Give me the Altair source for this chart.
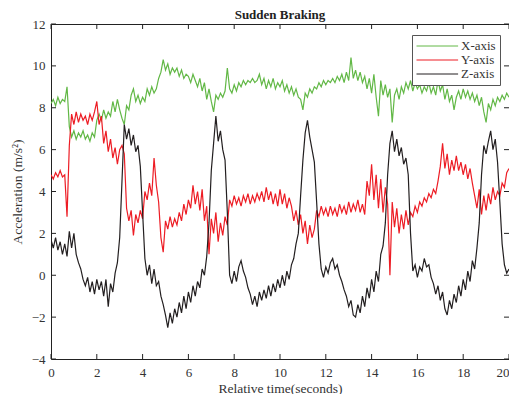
import altair as alt
import pandas as pd

series_names = ["X-axis", "Y-axis", "Z-axis"]
series_colors = ["#62b846", "#ed1c24", "#231f20"]

x_ticks = [0, 2, 4, 6, 8, 10, 12, 14, 16, 18, 20]
y_ticks = [-4, -2, 0, 2, 4, 6, 8, 10, 12]

# time grid: 0.0 .. 20.0 s, 0.1 s step
time_s = [round(i * 0.1, 1) for i in range(201)]

x_axis_vals = [
    8.2, 8.4, 8.1, 8.5, 8.2, 8.4, 8.3, 9.0, 7.1, 6.6,
    6.9, 6.5, 6.8, 6.6, 6.9, 6.5, 6.7, 6.4, 6.8, 6.6,
    7.4, 7.7, 7.4, 7.9, 7.5, 7.8, 7.6, 8.3, 7.8, 8.4,
    7.9, 7.5, 7.2, 8.1, 7.9, 8.6, 8.9, 8.3, 8.6, 8.2,
    8.5, 8.3, 8.9, 8.6, 9.0, 8.7, 8.9, 9.4, 9.7, 10.3,
    9.8, 10.1, 9.6, 9.9, 9.7, 9.9, 9.5, 9.8, 9.4, 9.6,
    9.5, 9.2, 9.6, 9.3, 9.0, 9.4, 8.8, 9.2, 8.4, 8.9,
    8.3, 7.8, 8.6, 8.4, 8.7, 8.5, 8.8, 9.9, 8.9, 8.7,
    9.1, 8.8, 9.2, 9.0, 9.3, 9.1, 9.3, 9.2, 9.4, 9.2,
    9.3, 9.6, 9.1, 9.4, 8.9, 9.3, 9.0, 9.4, 8.9, 9.2,
    9.0, 9.3, 8.8, 9.1, 8.7, 9.0, 8.6, 8.9, 8.5, 8.4,
    7.9, 8.7, 8.5, 8.9, 8.7, 9.0, 8.9, 9.2, 9.0, 9.3,
    9.1, 9.3, 9.2, 9.4, 9.2, 9.5, 9.3, 9.6, 9.2, 9.7,
    9.3, 10.4, 9.4, 9.8, 9.3, 9.7, 9.2, 9.5, 8.9, 9.4,
    8.7, 9.6, 8.5, 7.6, 9.3, 8.6, 9.1, 8.5, 8.9, 7.3,
    8.6, 8.9, 8.4, 9.0, 8.7, 9.2, 8.9, 9.3, 8.8, 9.2,
    8.9, 9.1, 8.7, 9.0, 8.8, 9.2, 8.7, 9.0, 8.6, 9.3,
    8.8, 9.1, 8.4, 8.9, 8.3, 8.6, 7.9, 8.5, 8.8, 8.4,
    8.9, 8.5, 8.8, 8.4, 8.7, 8.3, 8.6, 8.1, 8.5, 7.8,
    7.3, 8.2, 7.9, 8.4, 8.1, 8.5, 8.3, 8.6, 8.4, 8.7,
    8.5,
]

y_axis_vals = [
    4.8, 4.6, 4.9, 4.7, 5.0, 4.7, 4.8, 2.8, 6.2, 7.7,
    7.2, 7.8, 7.3, 7.7, 7.4, 7.6, 7.2, 7.7, 7.4, 7.8,
    8.3, 7.2, 7.6, 6.3, 6.9, 5.9, 6.5, 5.6, 6.1, 5.3,
    6.0, 6.2, 5.8, 3.2, 2.6, 3.1, 1.9, 2.9, 2.5, 3.1,
    2.7, 4.0, 3.6, 4.4, 3.8, 5.6, 4.3, 3.5, 1.8, 1.1,
    2.6, 2.2, 2.8, 2.3, 2.7, 2.4, 3.0, 2.6, 3.4, 2.9,
    3.6, 3.2, 4.3, 3.4, 4.0, 3.1, 4.1, 2.6, 3.3, 1.0,
    2.7, 2.0, 3.0, 1.6, 2.5, 1.9, 2.8, 2.4, 3.6, 3.3,
    3.8, 3.4, 3.7, 3.3, 3.8, 3.5, 3.9, 3.4, 3.8, 3.5,
    3.9, 3.6, 4.0, 3.5, 4.2, 3.6, 4.0, 3.4, 3.9, 3.3,
    4.1, 3.4, 3.9, 3.2, 3.7, 3.3, 2.6, 3.1, 2.4, 2.9,
    2.0, 2.6, 1.5, 2.4, 1.8, 2.2, 3.1, 2.8, 3.3, 2.9,
    3.2, 2.8, 3.3, 2.9, 3.2, 2.8, 3.4, 3.0, 3.3, 2.9,
    3.5, 3.0, 3.4, 3.1, 3.6, 3.0, 3.4, 2.9, 4.5, 3.8,
    5.3, 3.6, 4.8, 3.2, 4.6, 3.0, 4.2, 3.4, 0.0, 3.5,
    2.3, 3.2, 2.0, 2.9, 2.2, 3.1, 2.4, 3.0, 2.8, 3.3,
    3.0, 3.5, 3.3, 3.7, 3.5, 3.9, 3.7, 4.1, 3.9, 4.5,
    5.2, 6.3, 5.1, 5.8, 4.8, 5.5, 5.0, 5.7, 5.0, 5.4,
    4.8, 5.3, 4.6, 5.1, 4.4, 3.8, 3.2, 4.1, 2.9, 3.8,
    3.1, 3.9, 3.4, 4.2, 3.6, 4.0, 3.8, 4.4, 4.2, 4.9,
    5.1,
]

z_axis_vals = [
    1.7, 1.3, 1.8, 1.2, 1.6, 1.0, 1.5, 0.9, 2.1, 1.3,
    2.0, 1.0, 0.6, 0.3, -0.2, -0.5, -0.1, -0.8, -0.3, -0.9,
    -0.2, -0.7, -0.3, -1.0, -0.2, -1.5, -0.4, -0.8, 0.1, 0.6,
    1.8, 4.5, 7.2, 6.5, 7.0, 6.2, 6.7, 5.9, 6.2, 5.2,
    3.0, 0.8, 0.0, 0.5, -0.4, 0.3, -0.5, -0.3, -1.0, -1.4,
    -1.9, -2.5, -1.8, -2.3, -1.6, -2.0, -1.3, -1.8, -1.0, -1.6,
    -0.8, -1.3, -0.5, -1.0, -0.3, -0.6, 0.3, 0.0, 0.9, 2.5,
    5.0, 6.3, 7.6, 6.4, 6.9, 6.0, 5.5, 3.0, 0.0, -0.4,
    0.2, -0.3, 0.4, 0.7, 0.2, -0.1, -0.6, -0.9, -1.4, -1.0,
    -1.5, -0.8, -1.2, -0.7, -1.1, -0.5, -1.0, -0.4, -0.8, -0.2,
    -0.6, 0.0, -0.5, 0.2, -0.2, 0.5, 0.8, 1.5, 2.0, 3.8,
    5.5, 6.8, 7.4, 6.6, 6.0, 5.4, 3.5, 1.5, 0.3, -0.1,
    0.4, 0.1, 0.6, 0.8, 0.3, 0.5, 0.0, -0.3, -0.7, -1.0,
    -1.5, -1.2, -1.9, -2.0, -1.4, -1.8, -1.0, -1.5, -0.6, -1.1,
    -0.2, -0.8, 0.2, -0.3, 1.0, 1.4, 2.5, 4.8, 6.3, 6.9,
    5.9, 6.5, 5.7, 6.1, 5.3, 5.6, 4.8, 2.0, 0.2, 0.5,
    -0.1, 0.4, 0.2, 0.8, 0.4, 0.5, -0.1, -0.4, -0.9, -0.5,
    -1.2, -0.8, -1.6, -1.9, -1.2, -1.6, -0.9, -1.3, -0.5, -1.0,
    -0.2, -0.7, 0.2, -0.3, 0.7, 0.3, 1.3, 2.5, 4.8, 6.2,
    5.8, 6.4, 6.9, 6.0, 6.5, 5.4, 3.5, 1.5, 0.5, 0.1,
    0.3,
]

rows = []
for name, vals in zip(series_names, [x_axis_vals, y_axis_vals, z_axis_vals]):
    for tt, vv in zip(time_s, vals):
        rows.append({"t": tt, "v": vv, "s": name})
df = pd.DataFrame(rows)

W, H = 458, 335
FONT = "Liberation Serif"
TXT = "#333333"

xscale = alt.Scale(domain=[0, 20], nice=False, zero=False)
yscale = alt.Scale(domain=[-4, 12], nice=False, zero=False)

x_axis = alt.Axis(values=x_ticks, title="Relative time(seconds)", grid=False,
                  ticks=False, domain=False, labelPadding=7, titlePadding=2,
                  labelFontSize=13, titleFontSize=13.5, titleFontWeight="normal",
                  labelFont=FONT, titleFont=FONT, labelColor=TXT, titleColor=TXT,
                  labelFlush=False,
                  labelAlign={"condition": {"test": "datum.value == 20", "value": "right"},
                              "value": "center"})
y_axis = alt.Axis(values=y_ticks, title="Acceleration (m/s²)", grid=False,
                  ticks=False, domain=False, labelPadding=6, titlePadding=7,
                  labelFontSize=13, titleFontSize=13.5, titleFontWeight="normal",
                  labelFont=FONT, titleFont=FONT, labelColor=TXT, titleColor=TXT,
                  labelFlush=False)

lines = alt.Chart(df).mark_line(strokeWidth=1.2, clip=True).encode(
    x=alt.X("t:Q", scale=xscale, axis=x_axis),
    y=alt.Y("v:Q", scale=yscale, axis=y_axis),
    color=alt.Color("s:N", scale=alt.Scale(domain=series_names, range=series_colors),
                    legend=alt.Legend(title=None, orient="none", legendX=361, legendY=11,
                                      symbolType="M-1,0H5.4", symbolSize=169,
                                      symbolStrokeWidth=1,
                                      labelFont=FONT, labelFontSize=13, labelColor=TXT,
                                      labelOffset=31, rowPadding=0, padding=4,
                                      strokeColor="#555555", fillColor="white")),
)

xt_df = pd.DataFrame({"t": x_ticks})
yt_df = pd.DataFrame({"v": y_ticks})

bx = alt.Chart(xt_df).mark_rule(color="#222", strokeWidth=1).encode(
    x=alt.X("t:Q", scale=xscale, axis=x_axis), y=alt.value(H), y2=alt.value(H - 5))
tx = alt.Chart(xt_df).mark_rule(color="#222", strokeWidth=1).encode(
    x=alt.X("t:Q", scale=xscale, axis=x_axis), y=alt.value(0), y2=alt.value(5))
ly = alt.Chart(yt_df).mark_rule(color="#222", strokeWidth=1).encode(
    y=alt.Y("v:Q", scale=yscale, axis=y_axis), x=alt.value(0), x2=alt.value(5))
ry = alt.Chart(yt_df).mark_rule(color="#222", strokeWidth=1).encode(
    y=alt.Y("v:Q", scale=yscale, axis=y_axis), x=alt.value(W), x2=alt.value(W - 5))

chart = alt.layer(lines, bx, tx, ly, ry).properties(
    width=W, height=H,
    background="white",
    title=alt.TitleParams("Sudden Braking", font=FONT, fontSize=13, fontWeight="bold",
                          color="#222", anchor="middle", offset=-4),
    autosize=alt.AutoSizeParams(type="none"),
    padding={"left": 43, "top": 16, "right": 0, "bottom": 35},
).configure_view(stroke="#222", strokeWidth=1)

chart.save("out.html", embed_options={"renderer": "svg", "actions": False})
